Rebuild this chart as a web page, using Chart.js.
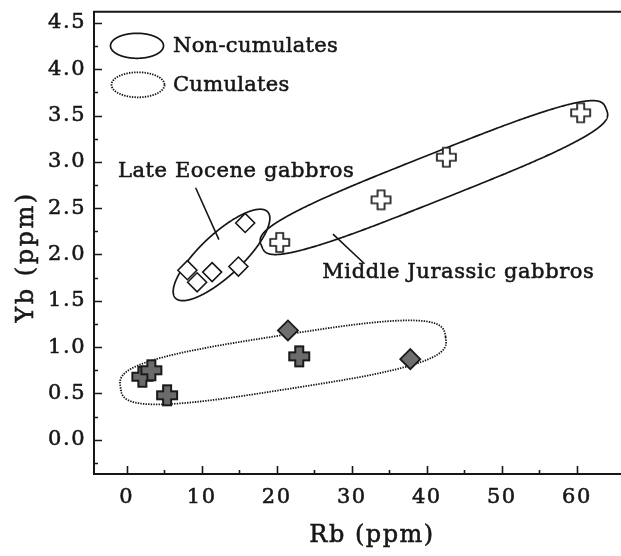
<!DOCTYPE html>
<html>
<head>
<meta charset="utf-8">
<script src="https://cdn.jsdelivr.net/npm/chart.js@4.4.0/dist/chart.umd.min.js"></script>
<style>
  html, body { margin: 0; padding: 0; background: #fff; }
  canvas { display: block; }
</style>
</head>
<body>
<canvas id="chart" width="621" height="556"></canvas>
<script>
// ---- values (Rb, Yb in ppm) ----
const jurassicRb = [20.4, 33.9, 42.6, 60.5];
const jurassicYb = [2.13, 2.59, 3.05, 3.53];
const eoceneRb = [8.1, 9.4, 11.4, 14.9, 15.8];
const eoceneYb = [1.83, 1.70, 1.81, 1.87, 2.34];
const cumCrossRb = [2.1, 3.3, 5.4, 23.0];
const cumCrossYb = [0.68, 0.75, 0.48, 0.90];
const cumDiamondRb = [21.5, 37.8];
const cumDiamondYb = [1.18, 0.87];

const xTicks = [0, 10, 20, 30, 40, 50, 60];
const yTicks = [0, 0.5, 1, 1.5, 2, 2.5, 3, 3.5, 4, 4.5];
const yTickLabels = ['0.0', '0.5', '1.0', '1.5', '2.0', '2.5', '3.0', '3.5', '4.0', '4.5'];

const xMin = -4.34, xMax = 64.3;
const yMin = -0.37, yMax = 4.62;

const FONT = '"DejaVu Serif", serif';
const INK = '#161616';

// plus-shaped marker drawn on a small canvas
function plusMarker(size, arm, fill, stroke, lw) {
  const c = document.createElement('canvas');
  c.width = size + 4; c.height = size + 4;
  const g = c.getContext('2d');
  const m = c.width / 2, h = size / 2, a = arm / 2;
  g.beginPath();
  g.moveTo(m - a, m - h); g.lineTo(m + a, m - h); g.lineTo(m + a, m - a);
  g.lineTo(m + h, m - a); g.lineTo(m + h, m + a); g.lineTo(m + a, m + a);
  g.lineTo(m + a, m + h); g.lineTo(m - a, m + h); g.lineTo(m - a, m + a);
  g.lineTo(m - h, m + a); g.lineTo(m - h, m - a); g.lineTo(m - a, m - a);
  g.closePath();
  g.fillStyle = fill; g.fill();
  g.lineWidth = lw; g.lineJoin = 'miter'; g.strokeStyle = stroke; g.stroke();
  return c;
}

const whitePlus = plusMarker(19, 7, '#ffffff', INK, 1.7);
const grayPlus = plusMarker(20, 8, '#6b6b6b', '#1a1a1a', 2);

function toPoints(xs, ys) {
  return xs.map((x, i) => ({ x: x, y: ys[i] }));
}

// envelopes: ends of the long axis in data units, half width in px
const envelopes = [
  { from: [6.5, 1.53], to: [18.8, 2.46], half: 21, n: 2, dotted: false },
  { from: [18.0, 2.09], to: [63.9, 3.57], half: 23, n: 3.2, dotted: false },
  { from: [-0.8, 0.56], to: [42.5, 1.11], half: 27, n: 3.2, dotted: true }
];

const leaders = [
  { from: [9.2, 2.72], to: [12.3, 2.16] },
  { from: [27.5, 2.22], to: [31.7, 1.90] }
];

const notes = [
  { text: 'Late Eocene gabbros', at: [14.6, 2.90] },
  { text: 'Middle Jurassic gabbros', at: [44.2, 1.81] }
];

function superEllipse(ctx, a, b, n) {
  ctx.beginPath();
  for (let i = 0; i <= 720; i++) {
    const t = i / 720 * Math.PI * 2;
    const c = Math.cos(t), s = Math.sin(t);
    const x = a * Math.sign(c) * Math.pow(Math.abs(c), 2 / n);
    const y = b * Math.sign(s) * Math.pow(Math.abs(s), 2 / n);
    if (i === 0) ctx.moveTo(x, y); else ctx.lineTo(x, y);
  }
  ctx.closePath();
}

function strokeStyleFor(ctx, dotted) {
  ctx.strokeStyle = dotted ? '#151515' : INK;
  ctx.lineWidth = dotted ? 1.8 : 1.7;
  ctx.setLineDash(dotted ? [1.4, 1.2] : []);
}

// slightly heavier text: thin stroke under the fill
function boldText(ctx, text, x, y) {
  ctx.lineWidth = 0.55;
  ctx.strokeStyle = INK;
  ctx.setLineDash([]);
  ctx.strokeText(text, x, y);
  ctx.fillText(text, x, y);
}

const extras = {
  id: 'extras',
  beforeDraw(chart) {
    chart.ctx.letterSpacing = '1.5px';
  },
  beforeDatasetsDraw(chart) {
    const ctx = chart.ctx;
    const xs = chart.scales.x, ys = chart.scales.y;
    const area = chart.chartArea;

    // frame: left, top and bottom only (right edge is cut off)
    ctx.save();
    ctx.strokeStyle = INK;
    ctx.lineWidth = 2;
    ctx.beginPath();
    ctx.moveTo(chart.width, area.top);
    ctx.lineTo(area.left, area.top);
    ctx.lineTo(area.left, area.bottom);
    ctx.lineTo(chart.width, area.bottom);
    ctx.stroke();

    // inward ticks
    ctx.lineWidth = 1.6;
    ctx.beginPath();
    for (let v = -5; v <= 65; v += 5) {
      if (v < xMin || v > xMax) continue;
      const px = Math.round(xs.getPixelForValue(v)) + 0.5;
      const len = v % 10 === 0 ? 8 : 4;
      ctx.moveTo(px, area.bottom);
      ctx.lineTo(px, area.bottom - len);
    }
    for (let k = -1; k <= 19; k++) {
      const v = k * 0.25;
      if (v < yMin || v > yMax) continue;
      const py = Math.round(ys.getPixelForValue(v)) + 0.5;
      const len = k % 2 === 0 ? 8 : 4;
      ctx.moveTo(area.left, py);
      ctx.lineTo(area.left + len, py);
    }
    ctx.stroke();

    // envelopes
    envelopes.forEach(e => {
      const ax = xs.getPixelForValue(e.from[0]), ay = ys.getPixelForValue(e.from[1]);
      const bx = xs.getPixelForValue(e.to[0]), by = ys.getPixelForValue(e.to[1]);
      ctx.save();
      ctx.translate((ax + bx) / 2, (ay + by) / 2);
      ctx.rotate(Math.atan2(by - ay, bx - ax));
      superEllipse(ctx, Math.hypot(bx - ax, by - ay) / 2, e.half, e.n);
      strokeStyleFor(ctx, e.dotted);
      ctx.stroke();
      ctx.restore();
    });

    // leader lines
    ctx.strokeStyle = INK;
    ctx.lineWidth = 1.6;
    ctx.setLineDash([]);
    leaders.forEach(l => {
      ctx.beginPath();
      ctx.moveTo(xs.getPixelForValue(l.from[0]), ys.getPixelForValue(l.from[1]));
      ctx.lineTo(xs.getPixelForValue(l.to[0]), ys.getPixelForValue(l.to[1]));
      ctx.stroke();
    });

    // labels
    ctx.fillStyle = INK;
    ctx.font = '21px ' + FONT;
    ctx.letterSpacing = '0.6px';
    ctx.textAlign = 'center';
    ctx.textBaseline = 'middle';
    notes.forEach(t => {
      boldText(ctx, t.text, xs.getPixelForValue(t.at[0]), ys.getPixelForValue(t.at[1]));
    });

    // legend
    const lx = area.left, ly = area.top;
    ctx.letterSpacing = '0.3px';
    [[43, 34, false, 'Non-cumulates'], [44, 73, true, 'Cumulates']].forEach(item => {
      ctx.save();
      ctx.translate(lx + item[0], ly + item[1]);
      superEllipse(ctx, 26.5, 12.5, 2);
      strokeStyleFor(ctx, item[2]);
      ctx.stroke();
      ctx.restore();
      ctx.textAlign = 'left';
      boldText(ctx, item[3], lx + 79, ly + item[1] + 1);
    });

    // axis titles
    ctx.font = '24px ' + FONT;
    ctx.letterSpacing = '1.5px';
    ctx.textAlign = 'center';
    boldText(ctx, 'Rb (ppm)', 372, 536);
    ctx.letterSpacing = '2.5px';
    ctx.save();
    ctx.translate(27, 257);
    ctx.rotate(-Math.PI / 2);
    boldText(ctx, 'Yb (ppm)', 0, 0);
    ctx.restore();
    ctx.restore();
  }
};

new Chart(document.getElementById('chart'), {
  type: 'scatter',
  data: {
    datasets: [
      {
        label: 'Middle Jurassic gabbros',
        data: toPoints(jurassicRb, jurassicYb),
        pointStyle: whitePlus
      },
      {
        label: 'Late Eocene gabbros',
        data: toPoints(eoceneRb, eoceneYb),
        pointStyle: 'rectRot',
        pointRadius: 9.5,
        backgroundColor: '#ffffff',
        borderColor: INK,
        borderWidth: 1.6
      },
      {
        label: 'Cumulates (cross)',
        data: toPoints(cumCrossRb, cumCrossYb),
        pointStyle: grayPlus
      },
      {
        label: 'Cumulates (diamond)',
        data: toPoints(cumDiamondRb, cumDiamondYb),
        pointStyle: 'rectRot',
        pointRadius: 10,
        backgroundColor: '#6e6e6e',
        borderColor: '#1a1a1a',
        borderWidth: 1.8
      }
    ]
  },
  options: {
    responsive: false,
    animation: false,
    layout: { padding: { top: 11, right: 0, bottom: 0, left: 0 } },
    plugins: {
      legend: { display: false },
      tooltip: { enabled: false }
    },
    scales: {
      x: {
        type: 'linear',
        min: xMin,
        max: xMax,
        grid: { display: false, drawTicks: false },
        border: { display: false },
        afterBuildTicks: s => { s.ticks = xTicks.map(v => ({ value: v })); },
        afterFit: s => { s.height = 82; s.paddingLeft = 0; s.paddingRight = 0; },
        ticks: {
          color: INK,
          font: { family: FONT, size: 21 },
          textStrokeColor: INK,
          textStrokeWidth: 0.55,
          padding: 11,
          maxRotation: 0
        }
      },
      y: {
        type: 'linear',
        min: yMin,
        max: yMax,
        grid: { display: false, drawTicks: false },
        border: { display: false },
        afterBuildTicks: s => { s.ticks = yTicks.map(v => ({ value: v })); },
        afterFit: s => { s.width = 94; s.paddingTop = 0; s.paddingBottom = 0; },
        ticks: {
          color: INK,
          font: { family: FONT, size: 21 },
          textStrokeColor: INK,
          textStrokeWidth: 0.55,
          padding: 8,
          callback: (v, i) => yTickLabels[i]
        }
      }
    }
  },
  plugins: [extras]
});
</script>
</body>
</html>
